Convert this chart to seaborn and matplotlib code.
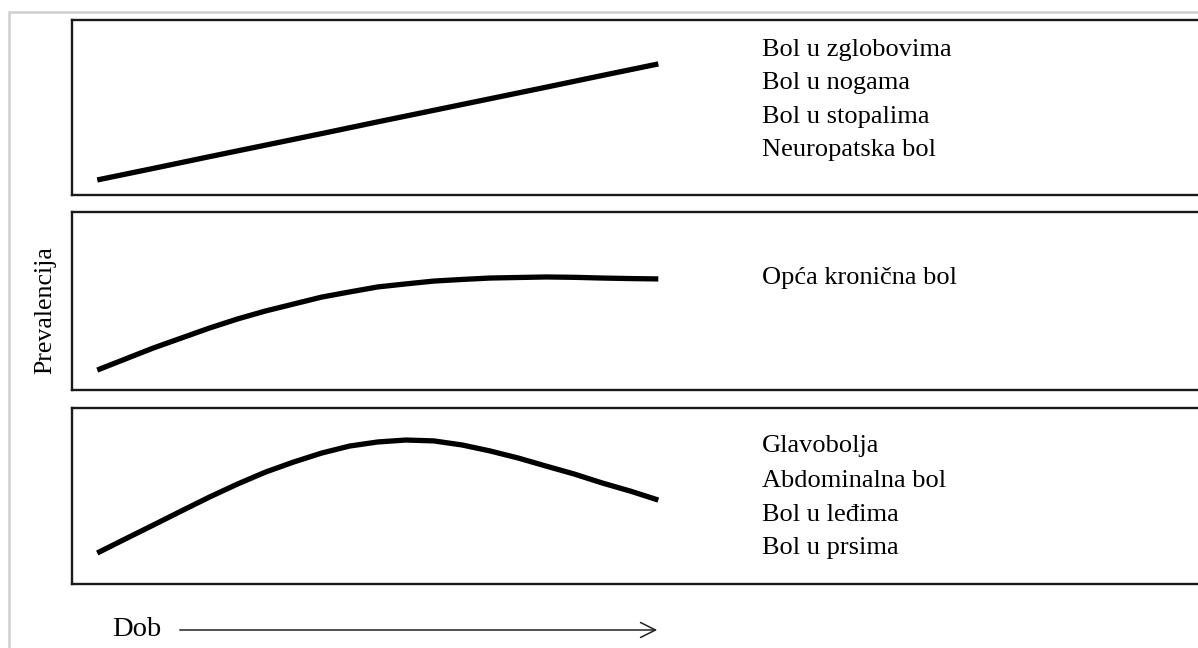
import numpy as np
import pandas as pd
import matplotlib
matplotlib.use("Agg")
import matplotlib.pyplot as plt
import seaborn as sns
from matplotlib.patches import Rectangle, FancyArrowPatch

# dob (proizvoljne jedinice) i prevalencija po panelu
dob = [0, 1, 2, 3, 4, 5, 6, 7, 8, 9, 10]
linearni = [0.86, 1.52, 2.19, 2.85, 3.51, 4.18, 4.84, 5.50, 6.16, 6.83, 7.49]

dob_fino = [0, 0.5, 1, 1.5, 2, 2.5, 3, 3.5, 4, 4.5, 5,
            5.5, 6, 6.5, 7, 7.5, 8, 8.5, 9, 9.5, 10]
plato = [1.12, 1.74, 2.36, 2.92, 3.48, 3.99, 4.44, 4.83, 5.22, 5.51, 5.79,
         5.96, 6.12, 6.21, 6.29, 6.32, 6.35, 6.33, 6.29, 6.26, 6.24]
vrh = [1.76, 2.56, 3.35, 4.15, 4.94, 5.68, 6.36, 6.93, 7.44, 7.84, 8.07,
       8.18, 8.13, 7.90, 7.56, 7.16, 6.70, 6.25, 5.74, 5.28, 4.77]

oznake_1 = ["Bol u zglobovima", "Bol u nogama", "Bol u stopalima", "Neuropatska bol"]
oznake_2 = ["Opća kronična bol"]
oznake_3 = ["Glavobolja", "Abdominalna bol", "Bol u leđima", "Bol u prsima"]

sns.set_theme(style="white")
plt.rcParams["font.family"] = ["Liberation Serif", "DejaVu Serif"]

W, H = 1198, 648
fig = plt.figure(figsize=(W / 100, H / 100), dpi=100)

# svijetlosivi okvir oko cijele slike
fig.patches.append(Rectangle((9 / W, -0.1), 1.2, 1 - 12 / H + 0.1,
                             transform=fig.transFigure, fill=False,
                             edgecolor="#cfcfcf", linewidth=1.8))

# paneli: (gornji rub, donji rub) u pikselima
paneli = [(20, 195), (212, 390), (408, 584)]
serije = [(dob, linearni), (dob_fino, plato), (dob_fino, vrh)]
oznake = [oznake_1, oznake_2, oznake_3]
pozicije_teksta = [[8.29, 6.40, 4.46, 2.57], [6.29], [7.85, 5.85, 3.92, 2.05]]

for (top, bot), (x, y), labs, ys in zip(paneli, serije, oznake, pozicije_teksta):
    ax = fig.add_axes([72 / W, 1 - bot / H, (1225 - 72) / W, (bot - top) / H])
    df = pd.DataFrame({"dob": x, "prevalencija": y})
    sns.lineplot(data=df, x="dob", y="prevalencija", ax=ax, color="black",
                 linewidth=3.8, solid_capstyle="butt")
    ax.set_xlim(-0.45, 20.1)
    ax.set_ylim(0, 10)
    ax.set_xticks([])
    ax.set_yticks([])
    ax.set_xlabel("")
    ax.set_ylabel("")
    for s in ax.spines.values():
        s.set_color("#1a1a1a")
        s.set_linewidth(1.7)
    for lab, yy in zip(labs, ys):
        ax.text(11.84, yy, lab, fontsize=19, va="center", ha="left",
                color="black")

fig.text(45 / W, 1 - 310 / H, "Prevalencija", rotation=90, fontsize=18.6,
         ha="center", va="center", color="black")

fig.text(112 / W, 1 - 630 / H, "Dob", fontsize=20.5, ha="left", va="center",
         color="black")
fig.add_artist(FancyArrowPatch(
    (177 / W, 1 - 630 / H), (660 / W, 1 - 630 / H),
    transform=fig.transFigure, arrowstyle="->,head_length=0.9,head_width=0.45",
    color="#222222", linewidth=1.1, mutation_scale=12))

fig.savefig("out.png", dpi=100)
plt.close(fig)
